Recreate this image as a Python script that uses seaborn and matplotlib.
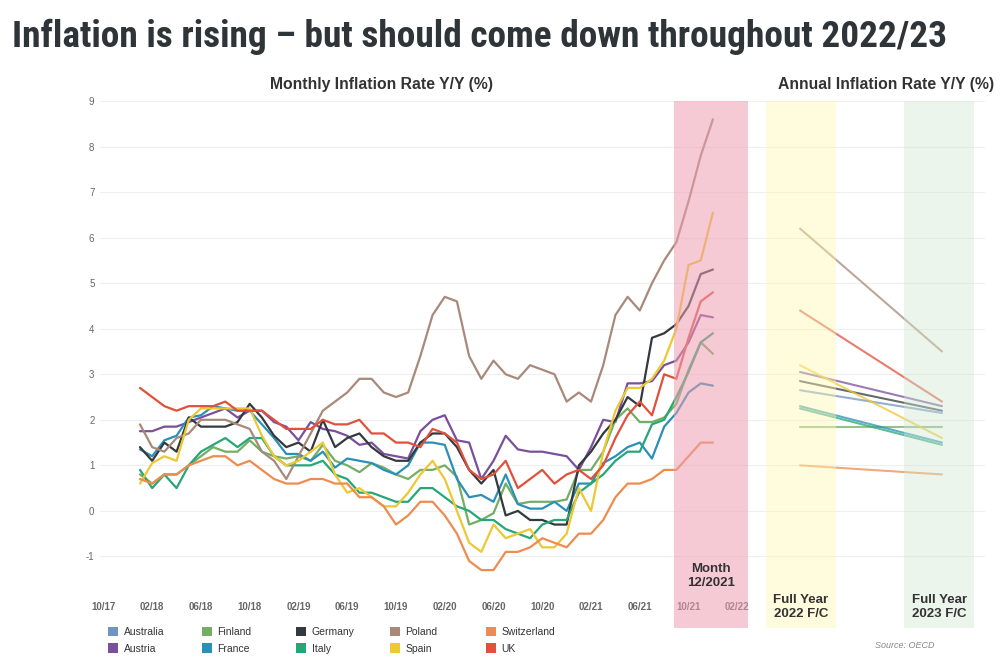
import matplotlib
matplotlib.use("Agg")

import matplotlib.pyplot as plt
from matplotlib.patches import Rectangle, Patch
from matplotlib.transforms import blended_transform_factory
import pandas as pd
import seaborn as sns

# --- DATA ---

countries = ["Australia", "Austria", "Finland", "France", "Germany",
             "Italy", "Poland", "Spain", "Switzerland", "UK"]
colors = ["#6f93c2", "#7a4f9c", "#72ae63", "#2a90b6", "#33393d",
          "#27a677", "#a8897a", "#ecc833", "#ee8c50", "#e1503b"]

months = pd.period_range("2018-01", "2021-12", freq="M")
tick_labels = ["10/17", "02/18", "06/18", "10/18", "02/19", "06/19", "10/19",
               "02/20", "06/20", "10/20", "02/21", "06/21", "10/21", "02/22"]

austria = [1.75, 1.75, 1.85, 1.85, 1.95, 2.05, 2.15, 2.25, 2.05, 2.2, 2.2, 1.95,
           1.85, 1.55, 1.95, 1.8, 1.75, 1.65, 1.45, 1.5, 1.25, 1.2, 1.15, 1.75,
           2.0, 2.1, 1.55, 1.5, 0.7, 1.1, 1.65, 1.35, 1.3, 1.3, 1.25, 1.2,
           0.9, 1.4, 2.0, 1.95, 2.8, 2.8, 2.85, 3.2, 3.3, 3.7, 4.3, 4.25]
finland = [0.8, 0.6, 0.8, 0.8, 1.0, 1.2, 1.4, 1.3, 1.3, 1.55, 1.3, 1.2,
           1.15, 1.2, 1.1, 1.45, 1.1, 1.0, 0.85, 1.05, 0.95, 0.8, 0.7, 0.9,
           0.9, 1.0, 0.75, -0.3, -0.2, -0.05, 0.6, 0.15, 0.2, 0.2, 0.2, 0.25,
           0.9, 0.9, 1.3, 2.0, 2.25, 1.95, 1.95, 2.05, 2.35, 3.1, 3.7, 3.45]
france = [1.35, 1.2, 1.55, 1.65, 2.05, 2.1, 2.3, 2.25, 2.2, 2.2, 1.9, 1.6,
          1.25, 1.25, 1.1, 1.3, 0.95, 1.15, 1.1, 1.05, 0.9, 0.8, 1.0, 1.5,
          1.5, 1.45, 0.7, 0.3, 0.35, 0.2, 0.8, 0.15, 0.05, 0.05, 0.2, 0.0,
          0.6, 0.6, 1.05, 1.2, 1.4, 1.5, 1.15, 1.85, 2.15, 2.6, 2.8, 2.75]
germany = [1.4, 1.1, 1.5, 1.3, 2.05, 1.85, 1.85, 1.85, 1.95, 2.35, 2.05, 1.65,
           1.4, 1.5, 1.3, 2.0, 1.4, 1.6, 1.7, 1.4, 1.2, 1.1, 1.1, 1.5,
           1.7, 1.7, 1.4, 0.9, 0.6, 0.9, -0.1, 0.0, -0.2, -0.2, -0.3, -0.3,
           1.0, 1.3, 1.7, 2.0, 2.5, 2.3, 3.8, 3.9, 4.1, 4.5, 5.2, 5.3]
italy = [0.9, 0.5, 0.8, 0.5, 1.0, 1.3, 1.45, 1.6, 1.4, 1.6, 1.6, 1.2,
         1.0, 1.0, 1.0, 1.1, 0.8, 0.7, 0.4, 0.4, 0.3, 0.2, 0.2, 0.5,
         0.5, 0.3, 0.1, 0.0, -0.2, -0.2, -0.4, -0.5, -0.6, -0.3, -0.2, -0.2,
         0.4, 0.6, 0.8, 1.1, 1.3, 1.3, 1.9, 2.0, 2.5, 3.05, 3.7, 3.9]
poland = [1.9, 1.4, 1.3, 1.6, 1.7, 2.0, 2.0, 2.0, 1.9, 1.8, 1.3, 1.1,
          0.7, 1.2, 1.7, 2.2, 2.4, 2.6, 2.9, 2.9, 2.6, 2.5, 2.6, 3.4,
          4.3, 4.7, 4.6, 3.4, 2.9, 3.3, 3.0, 2.9, 3.2, 3.1, 3.0, 2.4,
          2.6, 2.4, 3.2, 4.3, 4.7, 4.4, 5.0, 5.5, 5.9, 6.8, 7.8, 8.6]
spain = [0.6, 1.05, 1.2, 1.1, 2.0, 2.25, 2.25, 2.25, 2.25, 2.25, 1.65, 1.2,
         1.0, 1.1, 1.3, 1.5, 0.8, 0.4, 0.5, 0.3, 0.1, 0.1, 0.4, 0.8,
         1.1, 0.7, 0.0, -0.7, -0.9, -0.3, -0.6, -0.5, -0.4, -0.8, -0.8, -0.5,
         0.5, 0.0, 1.3, 2.2, 2.7, 2.7, 2.9, 3.3, 4.0, 5.4, 5.5, 6.55]
switzerland = [0.7, 0.6, 0.8, 0.8, 1.0, 1.1, 1.2, 1.2, 1.0, 1.1, 0.9, 0.7,
               0.6, 0.6, 0.7, 0.7, 0.6, 0.6, 0.3, 0.3, 0.1, -0.3, -0.1, 0.2,
               0.2, -0.1, -0.5, -1.1, -1.3, -1.3, -0.9, -0.9, -0.8, -0.6, -0.7, -0.8,
               -0.5, -0.5, -0.2, 0.3, 0.6, 0.6, 0.7, 0.9, 0.9, 1.2, 1.5, 1.5]
uk = [2.7, 2.5, 2.3, 2.2, 2.3, 2.3, 2.3, 2.4, 2.2, 2.2, 2.2, 2.0,
      1.8, 1.8, 1.8, 2.0, 1.9, 1.9, 2.0, 1.7, 1.7, 1.5, 1.5, 1.4,
      1.8, 1.7, 1.5, 0.9, 0.7, 0.8, 1.1, 0.5, 0.7, 0.9, 0.6, 0.8,
      0.9, 0.7, 1.0, 1.6, 2.1, 2.4, 2.1, 3.0, 2.9, 3.8, 4.6, 4.8]

monthly = {"Austria": austria, "Finland": finland, "France": france,
           "Germany": germany, "Italy": italy, "Poland": poland,
           "Spain": spain, "Switzerland": switzerland, "UK": uk}

# full year forecasts, same order as countries
fy2022 = [2.65, 3.05, 1.85, 2.3, 2.85, 2.25, 6.2, 3.2, 1.0, 4.4]
fy2023 = [2.15, 2.3, 1.85, 1.5, 2.2, 1.45, 3.5, 1.6, 0.8, 2.4]

palette = dict(zip(countries, colors))

# month index counted from 10/2017 (first tick)
month_idx = [(m.year - 2017) * 12 + m.month - 10 for m in months]

rows = []
for c, vals in monthly.items():
    for i, v in zip(month_idx, vals):
        rows.append({"Country": c, "idx": i, "rate": v})
df_m = pd.DataFrame(rows)

rows = []
for c, a, b in zip(countries, fy2022, fy2023):
    rows.append({"Country": c, "pos": 0, "rate": a})
    rows.append({"Country": c, "pos": 1, "rate": b})
df_a = pd.DataFrame(rows)

# --- PLOT ---

sns.set_theme(style="white")
plt.rcParams["font.family"] = ["Liberation Sans", "DejaVu Sans"]
plt.rcParams["axes.unicode_minus"] = False

fig = plt.figure(figsize=(10, 6.69), dpi=100)
ax = fig.add_axes([0.10, 0.107, 0.655, 0.742])
ax2 = fig.add_axes([0.755, 0.107, 0.23, 0.742], sharey=ax)

sns.lineplot(data=df_m, x="idx", y="rate", hue="Country", palette=palette,
             linewidth=1.6, legend=False, ax=ax)
sns.lineplot(data=df_a, x="pos", y="rate", hue="Country", palette=palette,
             linewidth=1.5, alpha=0.75, legend=False, ax=ax2)

ax.set_xlim(-0.28, 53.45)
ax.set_ylim(-1.9, 9.0)
ax.set_xticks(range(0, 4 * len(tick_labels), 4))
ax.set_xticklabels(tick_labels, fontsize=7, fontweight="bold", color="#666666")
ax.set_yticks(range(-1, 10))
ax.tick_params(axis="y", labelsize=7, labelcolor="#666666", length=0, pad=4)
ax.tick_params(axis="x", length=0, pad=3)
ax.set_xlabel("")
ax.set_ylabel("")
ax.yaxis.grid(True, color="#efefef", linewidth=0.8)

ax2.set_xlim(-0.317, 1.303)
ax2.tick_params(left=False, labelleft=False, bottom=False, labelbottom=False)
ax2.set_xlabel("")
ax2.set_ylabel("")
ax2.yaxis.grid(True, color="#efefef", linewidth=0.8)

for a in (ax, ax2):
    for s in a.spines.values():
        s.set_visible(False)

# highlight bands drawn over the lines
y0 = 1 - 628 / 669
y1 = 1 - 101 / 669
tr1 = blended_transform_factory(ax.transData, fig.transFigure)
tr2 = blended_transform_factory(ax2.transData, fig.transFigure)
fig.add_artist(Rectangle((46.8, y0), 6.1, y1 - y0, transform=tr1,
                         facecolor="#ee9fb1", alpha=0.55, lw=0, zorder=5))
fig.add_artist(Rectangle((-0.24, y0), 0.49, y1 - y0, transform=tr2,
                         facecolor="#fff7b0", alpha=0.42, lw=0, zorder=5))
fig.add_artist(Rectangle((0.735, y0), 0.49, y1 - y0, transform=tr2,
                         facecolor="#cfe6cf", alpha=0.4, lw=0, zorder=5))

fig.text(49.85, 1 - 576 / 669, "Month\n12/2021", transform=tr1, ha="center",
         va="center", fontsize=9.5, fontweight="bold", color="#333333",
         linespacing=1.15, zorder=6)
fig.text(0.005, 1 - 607 / 669, "Full Year\n2022 F/C", transform=tr2, ha="center",
         va="center", fontsize=9.5, fontweight="bold", color="#333333",
         linespacing=1.15, zorder=6)
fig.text(0.98, 1 - 607 / 669, "Full Year\n2023 F/C", transform=tr2, ha="center",
         va="center", fontsize=9.5, fontweight="bold", color="#333333",
         linespacing=1.15, zorder=6)

# titles
title = fig.text(0.012, 1 - 37 / 669, "Inflation is rising \u2013 but should come down throughout 2022/23",
                 ha="left", va="center", fontsize=26, fontweight="bold", color="#2e3438",
                 family=["Liberation Sans Narrow", "DejaVu Sans Condensed",
                         "Roboto Condensed", "Liberation Sans", "DejaVu Sans"])
fig.canvas.draw()
w = title.get_window_extent().width
title.set_fontsize(26 * 938 / w)

fig.text(0.382, 1 - 84 / 669, "Monthly Inflation Rate Y/Y (%)", ha="center", va="center",
         fontsize=11.3, fontweight="bold", color="#333333")
fig.text(0.886, 1 - 84 / 669, "Annual Inflation Rate Y/Y (%)", ha="center", va="center",
         fontsize=11.3, fontweight="bold", color="#333333")
fig.text(0.905, 1 - 645 / 669, "Source: OECD", ha="center", va="center",
         fontsize=6.5, style="italic", color="#888888")

# legend, two entries per column
col_x = [108, 202, 296, 390, 486]
for k, x in enumerate(col_x):
    names = countries[2 * k:2 * k + 2]
    handles = [Patch(facecolor=palette[n], edgecolor="none", label=n) for n in names]
    fig.legend(handles=handles, loc="upper left", bbox_to_anchor=(x / 1000, 1 - 627 / 669),
               frameon=False, fontsize=7.5, handlelength=1.0, handleheight=1.0,
               handletextpad=0.5, labelspacing=0.6, borderpad=0, borderaxespad=0,
               labelcolor="#333333")

fig.savefig("out.png", dpi=100)
